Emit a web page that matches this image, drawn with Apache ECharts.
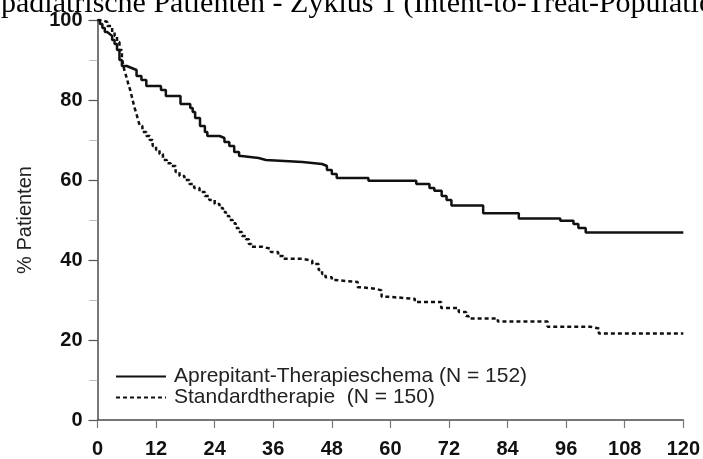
<!DOCTYPE html>
<html>
<head>
<meta charset="utf-8">
<script src="https://cdn.jsdelivr.net/npm/echarts@6/dist/echarts.min.js"></script>
<style>
html,body{margin:0;padding:0;background:#fff;}
#chart{width:703px;height:459px;}
</style>
</head>
<body>
<div id="chart"></div>
<script>
var titleText = 'pädiatrische Patienten - Zyklus 1 (Intent-to-Treat-Population)';
var yAxisName = '% Patienten';
var seriesNames = ['Aprepitant-Therapieschema (N = 152)', 'Standardtherapie  (N = 150)'];
var xTicks = [0, 12, 24, 36, 48, 60, 72, 84, 96, 108, 120];
var yTicks = [0, 20, 40, 60, 80, 100];

// [time, % patients] – Kaplan-Meier drops
var aprepitant = [
  [0,100],[0.5,99],[1,98],[1.5,97],[2,96.5],[2.5,96],[3,95],[3.5,94],[4,92.5],[4.5,90],
  [5,88.5],[6,88],[7,87.5],[8,86],[9,85],[10,83.5],[13,82.5],[14,81],[17,79],[19,78],
  [19.5,77],[20,75.5],[21,73.5],[22,72],[22.5,71],[25,70.5],[26,69.5],[27,68.5],[28,67],
  [29,66],[29.5,65.5],[33,65],[34.5,64.5],[42,64],[46,63.5],[47,62.5],[48,61.5],[49,60.5],
  [55.5,59.8],[65.3,59],[68,58],[69,57.3],[70.5,56],[71.5,55],[72.5,53.6],[79,51.7],
  [86.3,50.4],[94.8,49.8],[97.5,49],[98.5,48],[100,46.9],[120,46.9]
];
var standard = [
  [0,100],[1,99.5],[2,98.5],[3,97],[3.5,96],[4,94.5],[4.5,92.5],[5,90.5],[5.3,88.5],[5.6,87],
  [6,85.5],[6.3,84],[6.7,82.5],[7,81],[7.3,79.5],[7.6,78],[8,76.5],[8.3,75],[8.7,73.5],[9.2,72],
  [10,71],[10.7,70],[11.3,68.5],[12,67.5],[12.7,66.5],[13.4,65],[14.2,64.2],[15,63.5],[16,62],
  [16.8,61],[17.8,60],[18.8,59],[19.8,58],[20.9,57],[22,56],[22.9,55],[24,54],[25,53],[25.7,52],
  [26.3,51],[27,50],[27.7,49.2],[28.3,48],[28.9,47],[29.6,46],[30.4,45.2],[31,44],[31.5,43.3],
  [33.8,42.8],[35.5,42],[37,41],[38,40.3],[42,39.8],[44,39],[45.3,37.5],[46,36.5],[46.7,35.7],
  [48,35],[48.7,34.5],[53.3,33.2],[54,32.8],[57,32.4],[58.2,30.8],[59.6,30.3],[65,29.5],
  [70.4,28],[74,27],[75.5,26],[76,25.4],[82,24.6],[92.2,23.3],[101,22.9],[102.7,21.6],[120,21.6]
];

var chart = echarts.init(document.getElementById('chart'), null, {renderer: 'canvas'});
var axisColor = '#4a4a4a';
var option = {
  animation: false,
  backgroundColor: '#fff',
  grid: {left: 97.5, right: 16.5, top: 20, bottom: 37},
  graphic: [{
    type: 'text', left: 1, top: -11, silent: true,
    style: {text: titleText, fill: '#000', font: '30px "Liberation Serif", "Times New Roman", serif'}
  }],
  legend: {
    orient: 'vertical', left: 115, top: 366, padding: 0, itemGap: 0, itemWidth: 50, itemHeight: 21,
    itemStyle: {opacity: 0},
    textStyle: {fontFamily: 'Liberation Sans, Arial, sans-serif', fontSize: 21, color: '#222', lineHeight: 21, padding: [0, 0, 0, 3]},
    data: seriesNames
  },
  xAxis: {
    type: 'value', min: xTicks[0], max: xTicks[xTicks.length - 1], interval: 12,
    axisLine: {show: true, lineStyle: {color: axisColor, width: 1.5}},
    axisTick: {show: true, length: 8, lineStyle: {color: '#777', width: 1.2}},
    axisLabel: {margin: 19, color: '#111', fontWeight: 'bold', fontSize: 20, fontFamily: 'Liberation Sans, Arial, sans-serif'},
    splitLine: {show: false}
  },
  yAxis: {
    type: 'value', min: yTicks[0], max: yTicks[yTicks.length - 1], interval: 20,
    name: yAxisName, nameLocation: 'middle', nameGap: 62, nameRotate: 90,
    nameTextStyle: {fontSize: 20, color: '#222', fontFamily: 'Liberation Sans, Arial, sans-serif'},
    axisLine: {show: true, lineStyle: {color: axisColor, width: 1.5}},
    axisTick: {show: true, length: 9, lineStyle: {color: '#555', width: 1.2}},
    minorTick: {show: true, splitNumber: 2, length: 8, lineStyle: {color: '#bbb', width: 1}},
    axisLabel: {margin: 15, color: '#111', fontWeight: 'bold', fontSize: 20, fontFamily: 'Liberation Sans, Arial, sans-serif'},
    splitLine: {show: false}
  },
  series: [{
    name: seriesNames[0], type: 'line', step: 'end', showSymbol: false, symbol: 'none',
    data: aprepitant, lineStyle: {color: '#111', width: 2.5, type: 'solid'}, itemStyle: {color: '#111'}
  }, {
    name: seriesNames[1], type: 'line', step: 'end', showSymbol: false, symbol: 'none',
    data: standard, lineStyle: {color: '#111', width: 2.5, type: [4, 3]}, itemStyle: {color: '#111'}
  }]
};
chart.setOption(option);
</script>
</body>
</html>
